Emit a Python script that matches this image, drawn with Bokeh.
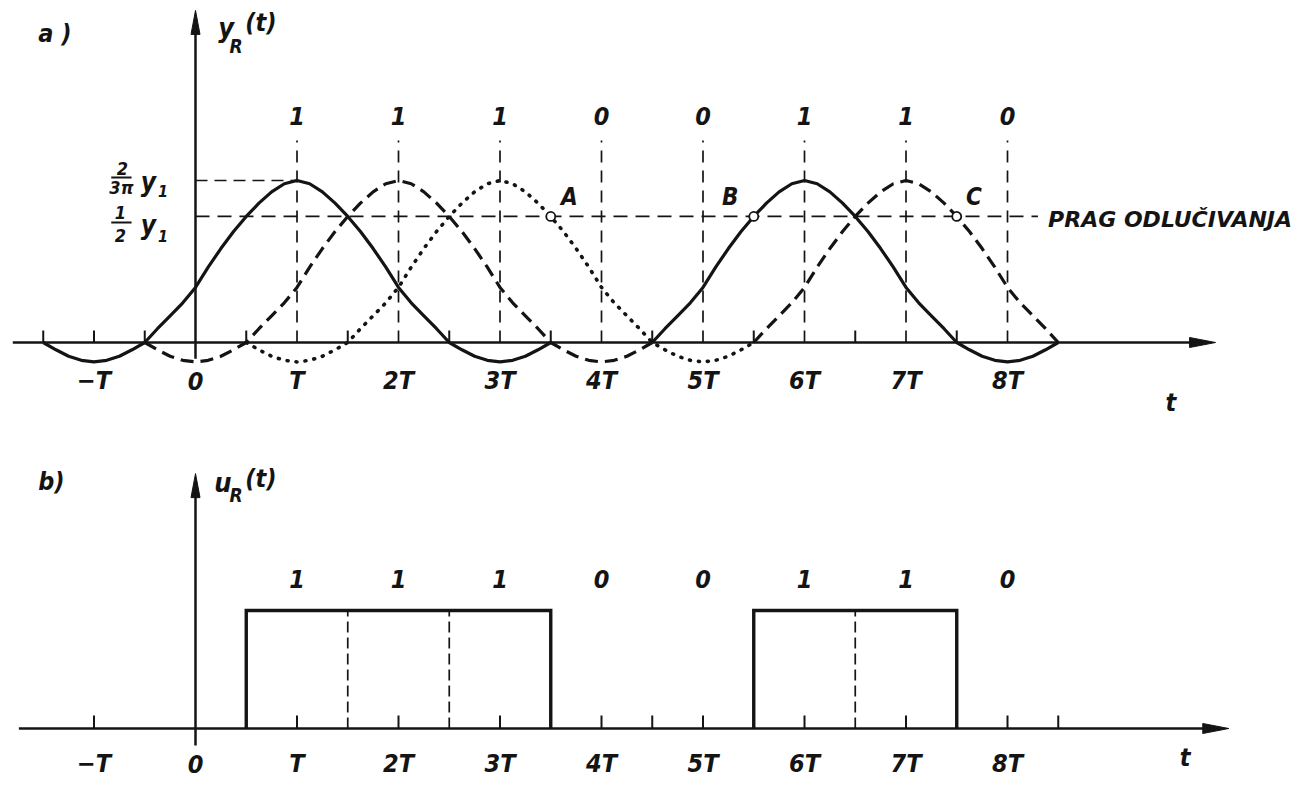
from bokeh.plotting import figure
from bokeh.models import Range1d
from bokeh.core.properties import value
from bokeh.embed import file_html
from bokeh.resources import INLINE

# ---------------- data ----------------
BITS = [1, 1, 1, 0, 0, 1, 1, 0]            # bit at t = 1T .. 8T
BIT_POS = [1, 2, 3, 4, 5, 6, 7, 8]
T_POS = [-1, 0, 1, 2, 3, 4, 5, 6, 7, 8]
T_LABELS = ["\u2212T", "0", "T", "2T", "3T", "4T", "5T", "6T", "7T", "8T"]

# one received pulse (offset from its peak in T, value rel. to peak)
PULSE_D = [0.0, 0.125, 0.25, 0.375, 0.5, 0.625, 0.75, 0.875, 1.0, 1.125, 1.25, 1.375, 1.5,
           1.625, 1.75, 1.875, 2.0, 2.125, 2.25, 2.375, 2.5]
PULSE_V = [1.0, 0.98, 0.93, 0.86, 0.778, 0.685, 0.58, 0.465, 0.34, 0.245, 0.165, 0.085, 0.0,
           -0.045, -0.085, -0.11, -0.12, -0.11, -0.085, -0.045, 0.0]

CURVE_CENTERS = [1, 2, 3, 6, 7]
CURVE_STYLES = ["solid", "dashed", "dotted", "solid", "dashed"]
CURVE_FROM = [-2.5, -2.5, -2.5, -1.5, -1.5]
CURVE_TO = [2.5, 2.5, 2.5, 2.5, 1.5]

THRESHOLD = 0.778
THRESHOLD_END = 8.3
ERROR_T = [3.5, 5.5, 7.5]
ERROR_LABELS = ["A", "B", "C"]

TOP_TICKS = [-1.5, -1, -0.5, 0.5, 1.5, 2.5, 3.5, 4.5, 5.5, 6.5, 7.5]
BOTTOM_TICKS = [-1, 1, 2, 3, 4, 4.5, 5, 6, 7, 8, 8.5]

# ---------------- layout constants ----------------
PX_X = 101.5      # px per T
PX_Y1 = 162.0     # px per unit, panel a
PX_Y2 = 118.0     # px per unit, panel b
INK = "#141414"
FONT = value("DejaVu Sans Condensed, DejaVu Sans")
FONT_WIDE = value("DejaVu Sans")

p = figure(width=1299, height=786, output_backend="svg", toolbar_location=None,
           x_range=Range1d(-1.9212, 10.8768), y_range=Range1d(-2.7407, 2.1111),
           x_axis_type=None, y_axis_type=None, min_border=0,
           background_fill_color="white", border_fill_color="white")
p.extra_y_ranges = {"b": Range1d(-0.4915, 6.1695)}
p.grid.visible = False
p.outline_line_color = None


def txt(x, y, s, size, align="center", rng="default", style="bold italic", font=FONT):
    p.text(x=[x], y=[y], text=[s], text_font=font, text_font_size=f"{size}px",
           text_font_style=style, text_align=align, text_baseline="middle",
           text_color=INK, y_range_name=rng)


def arrow_right(x0, x1, y, pxy, rng):
    p.line([x0, x1 - 10 / PX_X], [y, y], line_color=INK, line_width=2.5, y_range_name=rng)
    L, W = 26 / PX_X, 5 / pxy
    p.patch([x1, x1 - L, x1 - L], [y, y + W, y - W], fill_color=INK, line_color=INK,
            y_range_name=rng)


def arrow_up(x, y0, y1, pxy, rng):
    p.line([x, x], [y0, y1 - 10 / pxy], line_color=INK, line_width=2.5, y_range_name=rng)
    L, W = 24 / pxy, 4.5 / PX_X
    p.patch([x, x - W, x + W], [y1, y1 - L, y1 - L], fill_color=INK, line_color=INK,
            y_range_name=rng)


# ================= panel a =================
p.segment(x0=BIT_POS, y0=[0] * 8, x1=BIT_POS, y1=[1.247] * 8, line_color=INK,
          line_width=1.7, line_dash="12 8")
p.line([0, 1], [1.0, 1.0], line_color=INK, line_width=1.7, line_dash="12 7")
p.line([0, THRESHOLD_END], [THRESHOLD, THRESHOLD], line_color=INK, line_width=1.7,
       line_dash="14 8")

full_d = [-d for d in PULSE_D[::-1]] + PULSE_D[1:]
full_v = PULSE_V[::-1] + PULSE_V[1:]
for c, st, lo, hi in zip(CURVE_CENTERS, CURVE_STYLES, CURVE_FROM, CURVE_TO):
    xs = [c + d for d in full_d if lo - 1e-9 <= d <= hi + 1e-9]
    ys = [v for d, v in zip(full_d, full_v) if lo - 1e-9 <= d <= hi + 1e-9]
    if st == "solid":
        p.line(xs, ys, line_color=INK, line_width=3.2, line_join="round")
    elif st == "dashed":
        p.line(xs, ys, line_color=INK, line_width=3.2, line_dash="13 7")
    else:
        p.line(xs, ys, line_color=INK, line_width=3.6, line_dash="1 8", line_cap="round")

arrow_right(-1.80, 10.05, 0, PX_Y1, "default")
arrow_up(0, -0.10, 2.05, PX_Y1, "default")
p.segment(x0=TOP_TICKS, y0=[0] * len(TOP_TICKS), x1=TOP_TICKS,
          y1=[12 / PX_Y1] * len(TOP_TICKS), line_color=INK, line_width=2)

p.scatter(x=ERROR_T, y=[THRESHOLD] * 3, size=9, marker="circle", fill_color="white",
          line_color=INK, line_width=1.8)
for tx, lab, dx in zip(ERROR_T, ERROR_LABELS, [0.10, -0.15, 0.09]):
    txt(tx + dx, THRESHOLD + 19 / PX_Y1, lab, 24, align="left" if dx > 0 else "right")

for tp, lab in zip(T_POS, T_LABELS):
    txt(tp, -38 / PX_Y1, lab, 25)
for bp, b in zip(BIT_POS, BITS):
    txt(bp, 1.40, str(b), 25)
txt(9.61, -60 / PX_Y1, "t", 25)
txt(-1.55, 1.907, "a  )", 25, align="left")
txt(0.225, 1.944, "y", 27, align="left")
txt(0.335, 1.833, "R", 19, align="left")
txt(0.49, 1.975, "(t)", 25, align="left")
txt(8.40, 0.76, "PRAG  ODLU\u010cIVANJA", 22, align="left", font=FONT_WIDE)
# fraction labels
txt(-0.72, 1.074, "2", 18)
p.line([-0.83, -0.63], [1.019, 1.019], line_color=INK, line_width=2)
txt(-0.73, 0.958, "3\u03c0", 18)
txt(-0.54, 0.988, "y", 26, align="left")
txt(-0.37, 0.933, "1", 16, align="left")
txt(-0.74, 0.805, "1", 18)
p.line([-0.83, -0.63], [0.741, 0.741], line_color=INK, line_width=2)
txt(-0.74, 0.662, "2", 18)
txt(-0.54, 0.728, "y", 26, align="left")
txt(-0.37, 0.660, "1", 16, align="left")

# ================= panel b =================
i = 0
while i < len(BITS):
    if BITS[i] == 1:
        j = i
        while j + 1 < len(BITS) and BITS[j + 1] == 1:
            j += 1
        a, b = BIT_POS[i] - 0.5, BIT_POS[j] + 0.5
        p.line([a, a, b, b], [0, 1, 1, 0], line_color=INK, line_width=3.4,
               line_join="miter", y_range_name="b")
        i = j + 1
    else:
        i += 1
div_x = [BIT_POS[k] + 0.5 for k in range(len(BITS) - 1) if BITS[k] == 1 and BITS[k + 1] == 1]
p.segment(x0=div_x, y0=[0] * len(div_x), x1=div_x, y1=[1] * len(div_x), line_color=INK,
          line_width=1.7, line_dash="11 5", y_range_name="b")

arrow_right(-1.74, 10.18, 0, PX_Y2, "b")
arrow_up(0, -0.144, 2.16, PX_Y2, "b")
p.segment(x0=BOTTOM_TICKS, y0=[0] * len(BOTTOM_TICKS), x1=BOTTOM_TICKS,
          y1=[13 / PX_Y2] * len(BOTTOM_TICKS), line_color=INK, line_width=2, y_range_name="b")

for tp, lab in zip(T_POS, T_LABELS):
    txt(tp, -35 / PX_Y2, lab, 25, rng="b")
for bp, b in zip(BIT_POS, BITS):
    txt(bp, 1.27, str(b), 25, rng="b")
txt(9.75, -29 / PX_Y2, "t", 25, rng="b")
txt(-1.55, 2.093, "b)", 25, align="left", rng="b")
txt(0.185, 2.085, "u", 27, align="left", rng="b")
txt(0.335, 1.975, "R", 19, align="left", rng="b")
txt(0.49, 2.12, "(t)", 25, align="left", rng="b")

open("out.html", "w").write(file_html(p, INLINE))
